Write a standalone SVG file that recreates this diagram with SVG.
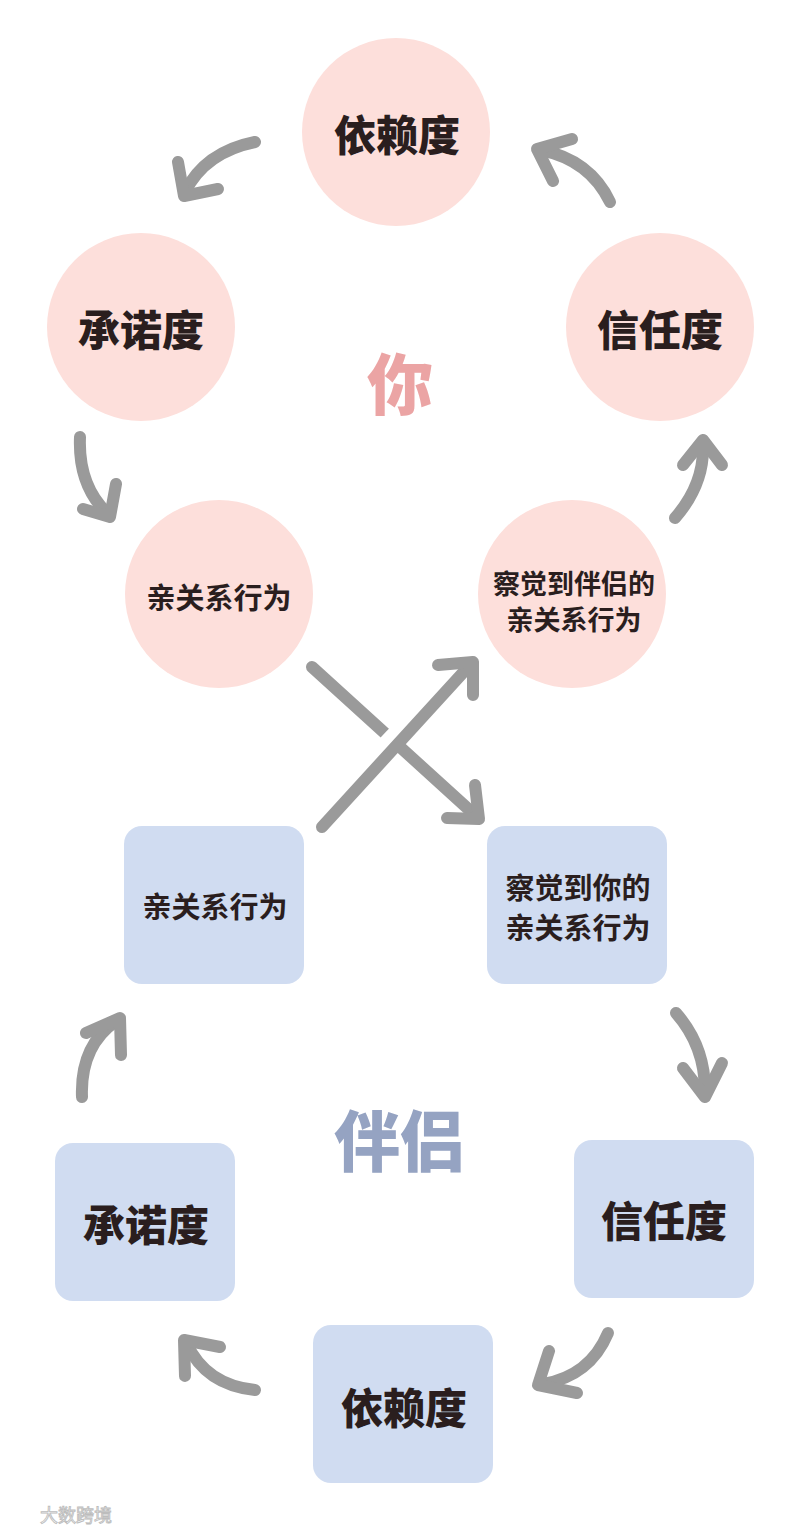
<svg xmlns="http://www.w3.org/2000/svg" width="800" height="1531" viewBox="0 0 800 1531">
<style>
.c{fill:#fddfdb}
.b{fill:#d0dcf1}
.t{font-family:"Noto Sans CJK SC","Noto Sans",sans-serif;font-weight:700;fill:#2a1e1e;text-anchor:middle;dominant-baseline:central}
.big{font-size:42px;font-weight:900}
.mid{font-size:29px}
.sm{font-size:27px}
.a{fill:none;stroke:#9a9a9a;stroke-width:12;stroke-linecap:round;stroke-linejoin:round}
.gap{fill:none;stroke:#ffffff;stroke-width:20;stroke-linecap:butt}
.title{font-family:"Noto Sans CJK SC","Noto Sans",sans-serif;font-weight:900;font-size:66px;text-anchor:middle;dominant-baseline:central}
</style>
<rect width="800" height="1531" fill="#ffffff"/>
<g id="you-dependence"><circle class="c" cx="396" cy="132" r="94"/><text class="t big" x="397" y="132">依赖度</text></g>
<g id="you-commitment"><circle class="c" cx="141" cy="327" r="94"/><text class="t big" x="141" y="327">承诺度</text></g>
<g id="you-trust"><circle class="c" cx="660" cy="327" r="94"/><text class="t big" x="660" y="327">信任度</text></g>
<g id="you-behavior"><circle class="c" cx="219" cy="594" r="94"/><text class="t mid" x="219" y="596">亲关系行为</text></g>
<g id="you-perceive"><circle class="c" cx="572" cy="594" r="94"/><text class="t sm" x="574" y="582">察觉到伴侣的</text><text class="t sm" x="574" y="618">亲关系行为</text></g>
<g id="label-you"><text class="title" x="400" y="380" fill="#eba4a4">你</text></g>
<g id="partner-behavior"><rect class="b" x="124" y="826" width="180" height="158" rx="18"/><text class="t mid" x="215" y="905">亲关系行为</text></g>
<g id="partner-perceive"><rect class="b" x="487" y="826" width="180" height="158" rx="18"/><text class="t mid" x="578" y="886">察觉到你的</text><text class="t mid" x="578" y="926">亲关系行为</text></g>
<g id="partner-commitment"><rect class="b" x="55" y="1143" width="180" height="158" rx="18"/><text class="t big" x="146" y="1222">承诺度</text></g>
<g id="partner-trust"><rect class="b" x="574" y="1140" width="180" height="158" rx="18"/><text class="t big" x="664" y="1218">信任度</text></g>
<g id="partner-dependence"><rect class="b" x="313" y="1325" width="180" height="158" rx="18"/><text class="t big" x="404" y="1405">依赖度</text></g>
<g id="label-partner"><text class="title" x="400" y="1137" fill="#95a3c2">伴侣</text></g>
<g id="connectors">
<path class="a" d="M255,142 Q205,152 185,192"/><polyline class="a" points="178,162 184,196 218,189"/>
<path class="a" d="M610,202 Q590,160 541,150"/><polyline class="a" points="572,139 537,149 553,181"/>
<path class="a" d="M80,437 Q78,485 107,513"/><polyline class="a" points="116,484 110,517 83,509"/>
<path class="a" d="M675,518 Q704,485 703,446"/><polyline class="a" points="683,465 703,440 722,465"/>
<path class="a" d="M312,667 L476,816"/><polyline class="a" points="475,785 479,819 447,818"/>
<path class="gap" d="M372,761 L424,706"/>
<path class="a" d="M322,827 L470,665"/><polyline class="a" points="438,665 473,662 473,695"/>
<path class="a" d="M82,1097 Q80,1046 116,1021"/><polyline class="a" points="86,1033 120,1018 121,1055"/>
<path class="a" d="M676,1013 Q705,1046 705,1091"/><polyline class="a" points="683,1068 705,1097 722,1063"/>
<path class="a" d="M608,1333 Q590,1376 543,1384"/><polyline class="a" points="549,1351 538,1385 577,1393"/>
<path class="a" d="M255,1390 Q206,1385 187,1344"/><polyline class="a" points="185,1376 184,1340 220,1347"/>
</g>
<g id="watermark"><text x="40" y="1522" font-family="Noto Sans CJK SC,sans-serif" font-size="18" fill="#ffffff" stroke="#bdbdbd" stroke-width="0.9">大数跨境</text></g>
</svg>
